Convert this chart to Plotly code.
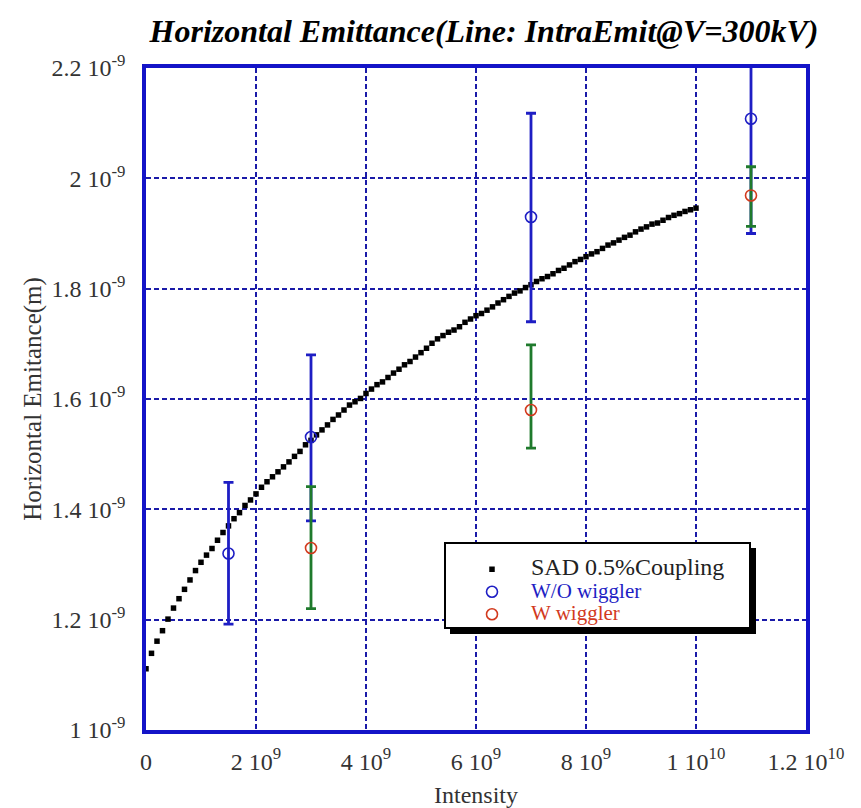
import plotly.graph_objects as go

# ---------------- data ----------------
# SAD 0.5% coupling curve (intensity in units of 1e9, emittance in units of 1e-9 m)
sad_intensity_e9 = [
    0.0, 0.1, 0.2, 0.3, 0.4, 0.5, 0.6, 0.7, 0.8, 0.9,
    1.0, 1.1, 1.2, 1.3, 1.4, 1.5, 1.6, 1.7, 1.8, 1.9,
    2.0, 2.1, 2.2, 2.3, 2.4, 2.5, 2.6, 2.7, 2.8, 2.9,
    3.0, 3.1, 3.2, 3.3, 3.4, 3.5, 3.6, 3.7, 3.8, 3.9,
    4.0, 4.1, 4.2, 4.3, 4.4, 4.5, 4.6, 4.7, 4.8, 4.9,
    5.0, 5.1, 5.2, 5.3, 5.4, 5.5, 5.6, 5.7, 5.8, 5.9,
    6.0, 6.1, 6.2, 6.3, 6.4, 6.5, 6.6, 6.7, 6.8, 6.9,
    7.0, 7.1, 7.2, 7.3, 7.4, 7.5, 7.6, 7.7, 7.8, 7.9,
    8.0, 8.1, 8.2, 8.3, 8.4, 8.5, 8.6, 8.7, 8.8, 8.9,
    9.0, 9.1, 9.2, 9.3, 9.4, 9.5, 9.6, 9.7, 9.8, 9.9,
    10.0,
]
sad_emit_e9 = [
    1.111, 1.139, 1.161, 1.180, 1.201, 1.221, 1.238, 1.255, 1.272, 1.289,
    1.304, 1.317, 1.329, 1.344, 1.358, 1.370, 1.383, 1.394, 1.407, 1.417,
    1.428, 1.440, 1.450, 1.459, 1.468, 1.477, 1.486, 1.496, 1.505, 1.517,
    1.525, 1.535, 1.544, 1.553, 1.563, 1.571, 1.580, 1.589, 1.595, 1.601,
    1.610, 1.618, 1.626, 1.631, 1.639, 1.647, 1.654, 1.662, 1.668, 1.676,
    1.684, 1.692, 1.701, 1.709, 1.715, 1.721, 1.725, 1.731, 1.739, 1.745,
    1.751, 1.755, 1.761, 1.767, 1.774, 1.780, 1.786, 1.792, 1.796, 1.802,
    1.807, 1.813, 1.818, 1.822, 1.827, 1.833, 1.837, 1.843, 1.849, 1.853,
    1.858, 1.863, 1.867, 1.873, 1.879, 1.883, 1.888, 1.893, 1.897, 1.903,
    1.908, 1.912, 1.917, 1.919, 1.924, 1.929, 1.933, 1.936, 1.940, 1.943,
    1.946,
]

# W/O wiggler measurements
wo_intensity_e9 = [1.5, 3.0, 7.0, 11.0]
wo_emit_e9 = [1.320, 1.531, 1.930, 2.108]
wo_err_plus_e9 = [0.129, 0.149, 0.188, 0.208]
wo_err_minus_e9 = [0.128, 0.152, 0.190, 0.208]

# W wiggler measurements
w_intensity_e9 = [3.0, 7.0, 11.0]
w_emit_e9 = [1.330, 1.580, 1.969]
w_err_plus_e9 = [0.111, 0.118, 0.052]
w_err_minus_e9 = [0.110, 0.069, 0.056]

# axis ticks
x_tick_vals_e9 = [0, 2, 4, 6, 8, 10, 12]
x_tick_text = ["0", "2 10<sup>9</sup>", "4 10<sup>9</sup>", "6 10<sup>9</sup>",
               "8 10<sup>9</sup>", "1 10<sup>10</sup>", "1.2 10<sup>10</sup>"]
y_tick_vals_e9 = [1.0, 1.2, 1.4, 1.6, 1.8, 2.0, 2.2]
y_tick_text = ["1 10<sup>-9</sup>", "1.2 10<sup>-9</sup>", "1.4 10<sup>-9</sup>",
               "1.6 10<sup>-9</sup>", "1.8 10<sup>-9</sup>", "2 10<sup>-9</sup>",
               "2.2 10<sup>-9</sup>"]

# ---------------- figure ----------------
E9 = 1e9
EM9 = 1e-9

FRAME_BLUE = "#1414c8"
GRID_BLUE = "#1a1aa8"
BLUE = "#1e1ec4"
GREEN = "#1f7a2c"
RED = "#d23a1e"
SERIF = "Liberation Serif"
TXT = "#333333"

fig = go.Figure()

fig.add_trace(go.Scatter(
    x=[v * E9 for v in sad_intensity_e9],
    y=[v * EM9 for v in sad_emit_e9],
    mode="markers",
    name="<span style='font-size:24px;color:#222222'>SAD 0.5%Coupling</span>",
    marker=dict(symbol="square", size=5.5, color="black"),
))

fig.add_trace(go.Scatter(
    x=[v * E9 for v in wo_intensity_e9],
    y=[v * EM9 for v in wo_emit_e9],
    mode="markers",
    name=f"<span style='font-size:21px;color:{BLUE}'>W/O wiggler</span>",
    marker=dict(symbol="circle-open", size=11, color=BLUE, line=dict(width=1.6)),
    error_y=dict(type="data", symmetric=False,
                 array=[v * EM9 for v in wo_err_plus_e9],
                 arrayminus=[v * EM9 for v in wo_err_minus_e9],
                 color=BLUE, thickness=2.8, width=5),
))

fig.add_trace(go.Scatter(
    x=[v * E9 for v in w_intensity_e9],
    y=[v * EM9 for v in w_emit_e9],
    mode="markers",
    name=f"<span style='font-size:21px;color:{RED}'>W wiggler</span>",
    marker=dict(symbol="circle-open", size=11, color=RED, line=dict(width=1.6)),
    error_y=dict(type="data", symmetric=False,
                 array=[v * EM9 for v in w_err_plus_e9],
                 arrayminus=[v * EM9 for v in w_err_minus_e9],
                 color=GREEN, thickness=2.8, width=5),
))

L, R, T, B = 146, 55, 68, 78
PW = 861 - L - R
PH = 808 - T - B


def px_x(p):
    return (p - L) / PW


def px_y(p):
    return (808 - B - p) / PH


# legend box with drop shadow
fig.add_shape(type="rect", xref="paper", yref="paper",
              x0=px_x(450), x1=px_x(756), y0=px_y(634), y1=px_y(548),
              fillcolor="black", line=dict(width=0), layer="above")
fig.add_shape(type="rect", xref="paper", yref="paper",
              x0=px_x(445), x1=px_x(750), y0=px_y(628), y1=px_y(543),
              fillcolor="white", line=dict(color="black", width=2), layer="above")

fig.update_layout(
    width=861, height=808,
    margin=dict(l=L, r=R, t=T, b=B, autoexpand=False),
    paper_bgcolor="white",
    plot_bgcolor="white",
    font=dict(family=SERIF, color=TXT, size=24),
    title=dict(
        text="<b><i>Horizontal Emittance(Line: IntraEmit@V=300kV)</i></b>",
        font=dict(family=SERIF, size=32, color="black"),
        x=484 / 861, xanchor="center", y=1 - 31 / 808, yanchor="middle",
    ),
    showlegend=True,
    legend=dict(
        x=px_x(453), y=px_y(553), xanchor="left", yanchor="top",
        bgcolor="rgba(0,0,0,0)", borderwidth=0,
        font=dict(family=SERIF, size=15, color="black"),
        tracegroupgap=0, itemwidth=68,
    ),
    xaxis=dict(
        range=[0, 12 * E9],
        tickvals=[v * E9 for v in x_tick_vals_e9],
        ticktext=x_tick_text,
        tickfont=dict(family=SERIF, size=24, color=TXT),
        showline=True, mirror=True, linecolor=FRAME_BLUE, linewidth=3.5,
        showgrid=True, gridcolor=GRID_BLUE, gridwidth=2.2, griddash="5px,3px",
        zeroline=False, ticks="", ticklabelstandoff=7, automargin=False,
        title=dict(text="Intensity", font=dict(family=SERIF, size=24, color=TXT),
                   standoff=14),
    ),
    yaxis=dict(
        range=[1.0 * EM9, 2.2 * EM9],
        tickvals=[v * EM9 for v in y_tick_vals_e9],
        ticktext=y_tick_text,
        tickfont=dict(family=SERIF, size=24, color=TXT),
        showline=True, mirror=True, linecolor=FRAME_BLUE, linewidth=3.5,
        showgrid=True, gridcolor=GRID_BLUE, gridwidth=2.2, griddash="5px,3px",
        zeroline=False, ticks="", ticklabelstandoff=12, automargin=False,
        title=dict(text="Horizontal Emitance(m)",
                   font=dict(family=SERIF, size=25, color=TXT), standoff=4),
    ),
)

fig.write_html("out.html")
